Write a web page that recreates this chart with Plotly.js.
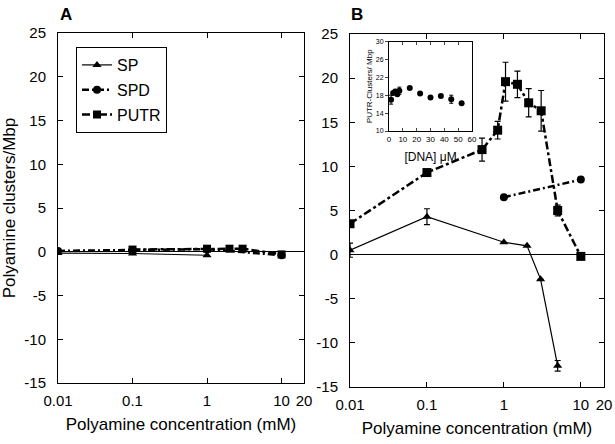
<!DOCTYPE html>
<html>
<head>
<meta charset="utf-8">
<script src="https://cdn.plot.ly/plotly-3.0.1.min.js"></script>
<style>html,body{margin:0;padding:0;background:#fff;}#chart{width:615px;height:444px;}</style>
</head>
<body>
<div id="chart"></div>
<script>
// ---- Panel A data ----
const spA_x = [0.01, 0.1, 1];
const spA_y = [-0.15, -0.2, -0.4];
const spdA_x = [0.01, 0.1, 1, 10];
const spdA_y = [0.1, 0.2, 0.3, -0.4];
const putrA_x = [0.1, 1, 2, 3, 10];
const putrA_y = [0.25, 0.35, 0.35, 0.35, -0.3];

// ---- Panel B data ----
const spB_x = [0.01, 0.1, 1, 2, 3, 5];
const spB_y = [0.5, 4.3, 1.4, 1.0, -2.8, -12.6];
const spB_err = [0.8, 0.9, 0, 0, 0, 0.6];
const spdB_x = [1, 10];
const spdB_y = [6.5, 8.5];
const putrB_x = [0.01, 0.1, 0.52, 0.83, 1.05, 1.5, 2.1, 3.05, 5, 10];
const putrB_y = [3.5, 9.3, 11.9, 14.1, 19.6, 19.3, 17.2, 16.3, 5.0, -0.2];
const putrB_err = [0, 0, 1.3, 1.0, 2.2, 1.5, 1.6, 2.3, 0.6, 0];

// ---- Inset data ----
const dna_x = [1.5, 3, 4.5, 6, 7.5, 15, 22.5, 30, 37.5, 45, 52.5];
const putr_clusters = [17.0, 18.5, 18.8, 18.2, 19.0, 19.6, 18.4, 17.5, 17.8, 17.1, 16.2];
const putr_clusters_err = [1.0, 0, 0.5, 0, 0.8, 0, 0, 0, 0, 0.9, 0];

// ---- Tick labels ----
const xTickVals = [0.01, 0.1, 1, 10, 20];
const xTickText = ['0.01', '0.1', '1', '10', '20'];
const yTickVals = [-15, -10, -5, 0, 5, 10, 15, 20, 25];
const yTickText = ['-15', '-10', '-5', '0', '5', '10', '15', '20', '25'];
const insetXTicks = [0, 10, 20, 30, 40, 50, 60];
const insetYTicks = [10, 14, 18, 22, 26, 30];

const FONT = 'Liberation Sans, Arial, Helvetica, sans-serif';
const SPD_DASH = '7px,3px,2px,3px';
const PUTR_DASH = '8px,3px,3px,3px';

function errs(arr){ return {type:'data', array:arr, visible:true, color:'#000', thickness:1.2, width:3}; }

const traces = [
  {x: spA_x, y: spA_y, name:'SP', legendgroup:'g1', mode:'lines+markers', xaxis:'x', yaxis:'y',
   line:{color:'#000', width:1.2}, marker:{symbol:'triangle-up', size:8, color:'#000'}},
  {x: spdA_x, y: spdA_y, name:'SPD', legendgroup:'g2', mode:'lines+markers', xaxis:'x', yaxis:'y',
   line:{color:'#000', width:2.5, dash:SPD_DASH}, marker:{symbol:'circle', size:8, color:'#000'}},
  {x: putrA_x, y: putrA_y, name:'PUTR', legendgroup:'g3', mode:'lines+markers', xaxis:'x', yaxis:'y',
   line:{color:'#000', width:2.5, dash:PUTR_DASH}, marker:{symbol:'square', size:8, color:'#000'}},

  {x: spB_x, y: spB_y, name:'SP', mode:'lines+markers', xaxis:'x2', yaxis:'y2', showlegend:false,
   error_y: errs(spB_err),
   line:{color:'#000', width:1.2}, marker:{symbol:'triangle-up', size:8, color:'#000'}},
  {x: spdB_x, y: spdB_y, name:'SPD', mode:'lines+markers', xaxis:'x2', yaxis:'y2', showlegend:false,
   line:{color:'#000', width:2.5, dash:SPD_DASH}, marker:{symbol:'circle', size:8, color:'#000'}},
  {x: putrB_x, y: putrB_y, name:'PUTR', mode:'lines+markers', xaxis:'x2', yaxis:'y2', showlegend:false,
   error_y: errs(putrB_err),
   line:{color:'#000', width:2.5, dash:PUTR_DASH}, marker:{symbol:'square', size:9, color:'#000'}},

  {x: dna_x, y: putr_clusters, name:'PUTR inset', mode:'markers', xaxis:'x3', yaxis:'y3', showlegend:false,
   error_y: {type:'data', array:putr_clusters_err, visible:true, color:'#000', thickness:1, width:2},
   marker:{symbol:'circle', size:6, color:'#000'}}
];

function logX(domain, anchor){
  return {domain: domain, anchor: anchor, type:'log', range:[-2, Math.log10(20)],
    tickvals: xTickVals, ticktext: xTickText, ticks:'inside', ticklen:5, tickwidth:1, tickcolor:'#000',
    showline:true, linecolor:'#000', linewidth:1, mirror:'ticks', showgrid:false, zeroline:false,
    ticklabelstandoff:4,
    tickfont:{family:FONT, size:15, color:'#000'},
    title:{text:'Polyamine concentration (mM)', font:{family:FONT, size:17, color:'#000'}, standoff:10}};
}
function linY(domain, anchor, withTitle){
  const ax = {domain: domain, anchor: anchor, range:[-15, 25],
    tickvals: yTickVals, ticktext: yTickText, ticks:'inside', ticklen:5, tickwidth:1, tickcolor:'#000',
    showline:true, linecolor:'#000', linewidth:1, mirror:'ticks', showgrid:false,
    zeroline:true, zerolinecolor:'#000', zerolinewidth:1, ticklabelstandoff:8,
    tickfont:{family:FONT, size:15, color:'#000'}};
  if (withTitle) ax.title = {text:'Polyamine clusters/Mbp', font:{family:FONT, size:17, color:'#000'}, standoff:4};
  return ax;
}

const layout = {
  width:615, height:444, margin:{l:0, r:0, t:0, b:0},
  paper_bgcolor:'#fff', plot_bgcolor:'#fff',
  font:{family:FONT, color:'#000'},
  xaxis: logX([58/615, 304/615], 'y'),
  yaxis: linY([61/444, 411/444], 'x', true),
  xaxis2: logX([350/615, 604/615], 'y2'),
  yaxis2: linY([57/444, 410/444], 'x2', false),
  xaxis3: {domain:[389/615, 472/615], anchor:'y3', range:[0, 60], tickvals: insetXTicks,
    ticks:'inside', ticklen:3, showline:true, linecolor:'#000', linewidth:1, mirror:'ticks',
    showgrid:false, zeroline:false, tickfont:{family:FONT, size:8, color:'#000'},
    title:{text:'[DNA] μM', font:{family:FONT, size:12, color:'#000'}, standoff:10}},
  yaxis3: {domain:[313/444, 402.5/444], anchor:'x3', range:[10, 30], tickvals: insetYTicks,
    ticks:'outside', ticklen:3, showline:true, linecolor:'#000', linewidth:1, mirror:true,
    showgrid:false, zeroline:false, tickfont:{family:FONT, size:7, color:'#000'},
    title:{text:'PUTR-Clusters/ Mbp', font:{family:FONT, size:8, color:'#000'}, standoff:2}},
  showlegend:true,
  legend:{x:76/615, y:1-47/444, xanchor:'left', yanchor:'top', bgcolor:'#fff',
    traceorder:'grouped', tracegroupgap:1,
    bordercolor:'#000', borderwidth:1, font:{family:FONT, size:16, color:'#000'}},
  annotations:[
    {text:'<b>A</b>', xref:'paper', yref:'paper', x:66/615, y:1-14/444, showarrow:false,
     font:{family:FONT, size:17, color:'#000'}, xanchor:'center', yanchor:'middle'},
    {text:'<b>B</b>', xref:'paper', yref:'paper', x:357/615, y:1-14/444, showarrow:false,
     font:{family:FONT, size:17, color:'#000'}, xanchor:'center', yanchor:'middle'}
  ]
};

Plotly.newPlot('chart', traces, layout, {staticPlot:true, displayModeBar:false});
</script>
</body>
</html>
